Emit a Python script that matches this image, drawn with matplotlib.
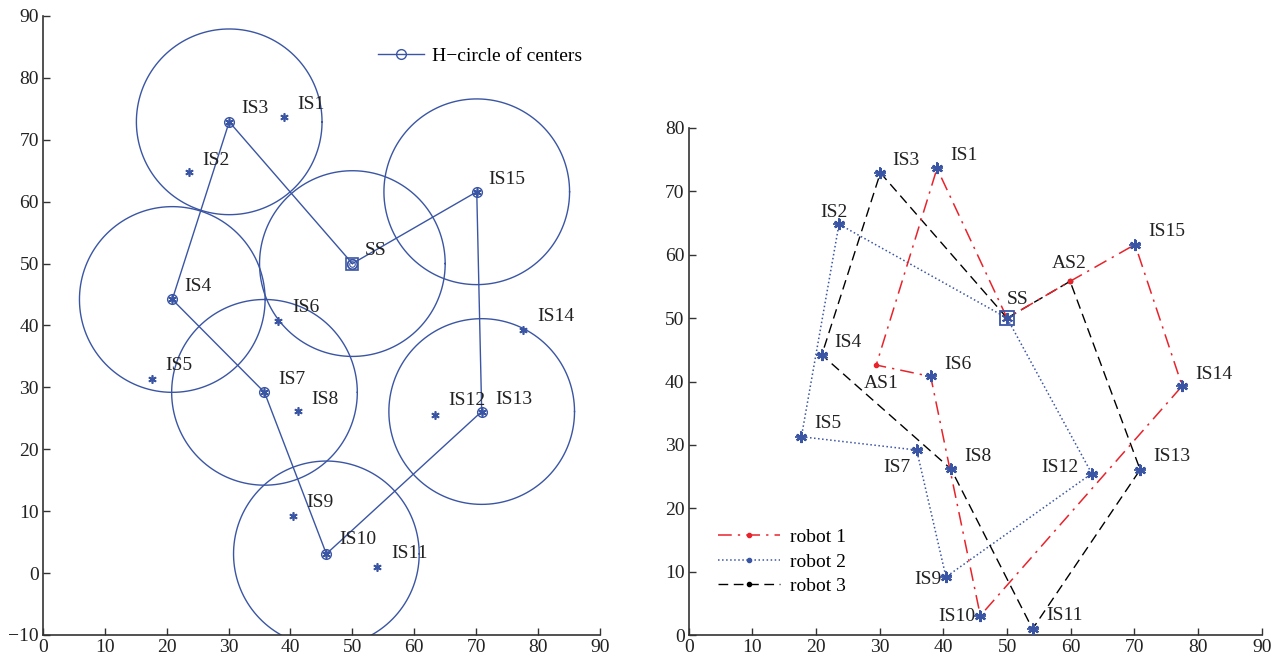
import numpy as np
import matplotlib
matplotlib.use("Agg")
import matplotlib.pyplot as plt

plt.rcParams['font.family'] = ['Liberation Serif', 'DejaVu Serif']

# ---- data ----
names = ['IS1', 'IS2', 'IS3', 'IS4', 'IS5', 'IS6', 'IS7', 'IS8', 'IS9', 'IS10',
         'IS11', 'IS12', 'IS13', 'IS14', 'IS15']
xs = [39.0, 23.6, 30.1, 20.9, 17.7, 38.0, 35.8, 41.2, 40.4, 45.8,
      54.0, 63.3, 70.9, 77.5, 70.1]
ys = [73.6, 64.8, 72.9, 44.2, 31.3, 40.8, 29.2, 26.2, 9.2, 3.1,
      1.0, 25.5, 26.1, 39.3, 61.6]
ss = (50.0, 50.0)
as_names = ['AS1', 'AS2']
as_x = [29.45, 59.9]
as_y = [42.6, 55.8]

# H-circle centers route (left panel)
center_route = ['SS', 'IS15', 'IS13', 'IS10', 'IS7', 'IS4', 'IS3', 'SS']
radius = 15.0

# robot routes (right panel)
robot1 = ['SS', 'IS1', 'AS1', 'IS6', 'IS10', 'IS14', 'IS15', 'AS2', 'SS']
robot2 = ['SS', 'IS2', 'IS5', 'IS7', 'IS9', 'IS12', 'SS']
robot3 = ['SS', 'IS3', 'IS4', 'IS8', 'IS11', 'IS13', 'AS2', 'SS']

# label offsets (left panel / right panel), data units
left_lab = {'IS1': (2.1, 2.1), 'IS2': (2.1, 1.9), 'IS3': (1.9, 2.1), 'IS4': (2.0, 2.1),
            'IS5': (2.1, 2.2), 'IS6': (2.3, 2.1), 'IS7': (2.2, 2.1), 'IS8': (2.2, 1.9),
            'IS9': (2.2, 2.2), 'IS10': (2.1, 2.3), 'IS11': (2.3, 2.1), 'IS12': (2.2, 2.3),
            'IS13': (2.2, 2.0), 'IS14': (2.3, 2.1), 'IS15': (1.9, 2.0), 'SS': (2.0, 2.1)}
right_lab = {'IS1': (2.0, 2.0), 'IS2': (-2.9, 1.9), 'IS3': (1.9, 1.9), 'IS4': (1.9, 2.0),
             'IS5': (2.0, 2.1), 'IS6': (2.1, 1.9), 'IS7': (-5.2, -2.7), 'IS8': (2.0, 2.0),
             'IS9': (-4.9, -0.4), 'IS10': (-6.6, -0.2), 'IS11': (2.1, 2.2), 'IS12': (-7.9, 1.0),
             'IS13': (2.0, 2.1), 'IS14': (2.1, 1.8), 'IS15': (2.1, 2.0), 'SS': (0.0, 2.9),
             'AS1': (-1.9, -2.9), 'AS2': (-2.9, 2.8)}

BLUE = '#3a55a4'
RED = '#e8232b'

pts = {n: (x, y) for n, x, y in zip(names, xs, ys)}
pts['SS'] = ss
for n, x, y in zip(as_names, as_x, as_y):
    pts[n] = (x, y)

ast = (6, 2, 0)

fig = plt.figure(figsize=(12.78, 6.60), dpi=100)
ax1 = fig.add_axes([0.0336, 0.0379, 0.4358, 0.9379])
ax2 = fig.add_axes([0.5389, 0.0374, 0.4484, 0.7690])

# ---------------- left panel ----------------
cx = [pts[n][0] for n in center_route]
cy = [pts[n][1] for n in center_route]
t = np.linspace(0, 2 * np.pi, 300)
for n in center_route[:-1]:
    px, py = pts[n]
    ax1.plot(px + radius * np.cos(t), py + radius * np.sin(t), color=BLUE, lw=1.0)
ax1.plot(cx, cy, color=BLUE, lw=1.0, marker='o', ms=7, mfc='none', mew=1.0,
         label='H\u2212circle of centers')
ax1.plot(xs, ys, ls='none', marker=ast, ms=6, color=BLUE, mew=1.2)
ax1.plot([ss[0]], [ss[1]], marker='s', ms=8, mfc='none', color=BLUE, mew=1.2)
ax1.plot([ss[0]], [ss[1]], marker='o', ms=4, mfc='none', color=BLUE, mew=0.8)
for n, (dx, dy) in left_lab.items():
    px, py = pts[n]
    ax1.text(px + dx, py + dy, n, fontsize=14, color='#222222', va='center', ha='left')
ax1.set_xlim(0, 90)
ax1.set_ylim(-10, 90)
ax1.set_xticks(range(0, 91, 10))
ax1.set_yticks(range(-10, 91, 10))
leg1 = ax1.legend(loc='upper right', bbox_to_anchor=(1.0, 0.978), frameon=False,
                  fontsize=14, handlelength=2.4, handletextpad=0.4)

# ---------------- right panel ----------------
def route_xy(r):
    return [pts[n][0] for n in r], [pts[n][1] for n in r]

x1, y1 = route_xy(robot1)
x2, y2 = route_xy(robot2)
x3, y3 = route_xy(robot3)
ax2.plot(x2, y2, color=BLUE, ls=':', lw=1.1, marker='.', ms=6, label='robot 2', zorder=2)
ax2.plot(x3, y3, color='black', ls=(0, (7, 4)), lw=1.0, marker='.', ms=6, label='robot 3', zorder=2)
ax2.plot(x1, y1, color=RED, ls=(0, (9, 4, 1.5, 4)), lw=1.1, marker='.', ms=6, label='robot 1', zorder=3)
ax2.plot(xs, ys, ls='none', marker=ast, ms=8, color=BLUE, mew=1.6, zorder=4)
ax2.plot(xs, ys, ls='none', marker='+', ms=9, color=BLUE, mew=1.3, zorder=4)
ax2.plot([ss[0]], [ss[1]], marker='s', ms=10, mfc='none', color=BLUE, mew=1.3, zorder=4)
ax2.plot([ss[0]], [ss[1]], marker=ast, ms=8, color=BLUE, mew=1.4, zorder=4)
for n, (dx, dy) in right_lab.items():
    px, py = pts[n]
    ax2.text(px + dx, py + dy, n, fontsize=14, color='#222222', va='center', ha='left')
ax2.set_xlim(0, 90)
ax2.set_ylim(0, 80)
ax2.set_xticks(range(0, 91, 10))
ax2.set_yticks(range(0, 81, 10))
h, l = ax2.get_legend_handles_labels()
order = [l.index('robot 1'), l.index('robot 2'), l.index('robot 3')]
ax2.legend([h[i] for i in order], [l[i] for i in order], loc='lower left',
           bbox_to_anchor=(0.02, 0.045), frameon=False, fontsize=14,
           handlelength=3.2, handletextpad=0.5, labelspacing=0.35)

for ax in (ax1, ax2):
    for s in ('top', 'right'):
        ax.spines[s].set_visible(False)
    for s in ('left', 'bottom'):
        ax.spines[s].set_color('#333333')
        ax.spines[s].set_linewidth(1.2)
    ax.tick_params(direction='in', length=5, width=1.0, colors='#333333',
                   labelsize=14, labelcolor='#222222', pad=3)

fig.savefig('out.png', dpi=100)
